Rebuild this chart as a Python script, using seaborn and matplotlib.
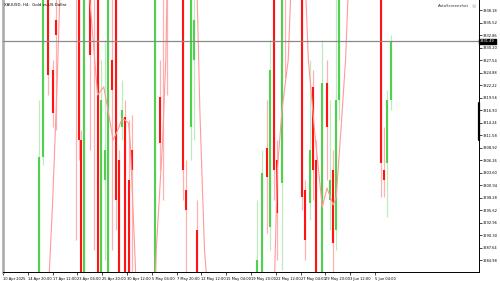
import matplotlib
matplotlib.use("Agg")
import matplotlib.pyplot as plt
import seaborn as sns
import pandas as pd
import numpy as np

# ---- data ----
bar_idx = [23, 26, 29, 32, 34, 47, 49, 50, 52, 56, 59, 61, 63, 66, 68, 70, 73, 75, 77, 79,
           81, 83, 98, 101, 103, 106, 116, 118, 121, 123, 125, 164, 167, 170, 172, 175, 177,
           180, 182, 193, 195, 198, 200, 202, 206, 209, 211, 213, 215, 217, 244, 246, 248, 250]
opens = [3276.5, 3306.9, 3344.6, 3325.4, 3336.1, 3344.6, 3344.6, 3310.5, 3278.6, 3344.6,
         3344.6, 3344.6, 3278.6, 3302.0, 3278.6, 3327.5, 3344.6, 3306.2, 3313.3, 3315.4,
         3302.0, 3308.4, 3278.6, 3319.7, 3344.6, 3344.6, 3344.6, 3299.9, 3313.3, 3327.5,
         3291.4, 3280.7, 3278.6, 3308.8, 3292.0, 3344.6, 3306.2, 3301.4, 3344.6, 3344.6,
         3299.9, 3297.1, 3321.8, 3306.2, 3278.6, 3322.6, 3297.7, 3304.1, 3291.4, 3319.0,
         3344.6, 3304.1, 3305.6, 3319.0]
highs = [3319.0, 3346.7, 3346.7, 3327.5, 3346.7, 3346.7, 3346.7, 3312.6, 3346.7, 3346.7,
         3346.7, 3346.7, 3327.5, 3331.8, 3346.7, 3344.6, 3346.7, 3308.4, 3323.3, 3319.0,
         3314.8, 3315.8, 3346.7, 3327.5, 3346.7, 3346.7, 3346.7, 3306.2, 3346.7, 3346.7,
         3297.7, 3297.7, 3308.4, 3319.0, 3331.8, 3346.7, 3310.5, 3346.7, 3346.7, 3346.7,
         3302.0, 3327.5, 3325.4, 3310.5, 3331.8, 3327.5, 3319.0, 3308.4, 3344.6, 3346.7,
         3346.7, 3313.3, 3321.2, 3332.9]
lows = [3274.3, 3305.2, 3320.1, 3313.3, 3312.6, 3289.2, 3306.2, 3278.6, 3276.5, 3308.4,
        3287.1, 3276.5, 3276.5, 3285.0, 3276.5, 3287.1, 3291.4, 3274.3, 3310.5, 3276.5,
        3276.5, 3278.6, 3276.5, 3304.1, 3297.7, 3320.1, 3297.7, 3278.6, 3306.2, 3310.5,
        3276.5, 3278.6, 3276.5, 3290.7, 3287.1, 3297.7, 3285.0, 3282.9, 3323.7, 3295.6,
        3285.0, 3293.5, 3297.7, 3274.3, 3276.5, 3302.0, 3291.4, 3278.6, 3287.1, 3314.8,
        3298.4, 3298.4, 3294.1, 3316.9]
closes = [3306.9, 3344.6, 3324.3, 3316.3, 3332.9, 3342.4, 3310.5, 3280.7, 3344.6, 3328.6,
          3342.4, 3278.6, 3319.0, 3308.4, 3344.6, 3321.2, 3297.7, 3276.5, 3316.9, 3278.6,
          3278.6, 3304.1, 3344.6, 3309.9, 3342.4, 3342.4, 3304.1, 3295.6, 3344.6, 3336.1,
          3278.6, 3285.0, 3303.5, 3302.6, 3325.4, 3304.1, 3295.0, 3344.6, 3342.4, 3298.4,
          3289.2, 3308.4, 3304.1, 3276.5, 3322.6, 3313.3, 3302.0, 3288.6, 3319.0, 3344.6,
          3305.6, 3302.0, 3319.0, 3331.5]

ma_bar = [29, 32, 35, 37, 55, 61, 65, 68, 71, 74, 77, 81, 82, 85, 86, 98, 99, 103, 105, 106,
          125, 127, 130, 132, 175, 177, 180, 184, 186, 195, 197, 201, 206, 209, 213, 215,
          218, 221, 223, 250]
ma_val = [3276.5, 3297.1, 3323.3, 3344.6, 3344.6, 3320.1, 3321.8, 3316.5, 3310.5, 3312.6,
          3315.2, 3314.1, 3310.5, 3287.1, 3278.6, 3278.6, 3287.7, 3310.5, 3327.5, 3344.6,
          3344.6, 3316.9, 3287.1, 3278.6, 3278.6, 3304.1, 3316.9, 3327.5, 3344.6, 3344.6,
          3327.5, 3312.6, 3296.2, 3300.3, 3296.7, 3298.4, 3312.6, 3327.5, 3344.6, 3344.6]

x_tick_bars = [0, 16, 32, 48, 64, 80, 96, 112, 128, 144, 160, 176, 192, 208, 224, 240]
x_tick_labels = ["10 Apr 2025", "14 Apr 20:00", "17 Apr 12:00", "23 Apr 04:00",
                 "25 Apr 20:00", "30 Apr 12:00", "5 May 04:00", "7 May 20:00",
                 "12 May 12:00", "15 May 04:00", "19 May 20:00", "22 May 12:00",
                 "27 May 04:00", "29 May 20:00", "3 Jun 12:00", "5 Jun 04:00"]
y_ticks = [3284.98, 3287.64, 3290.30, 3292.96, 3295.62, 3298.28, 3300.94, 3303.60, 3306.26,
           3308.92, 3311.58, 3314.24, 3316.90, 3319.56, 3322.22, 3324.88, 3327.54, 3330.20,
           3332.86, 3335.52, 3338.18]
current_price = 3331.49
title_text = "XAUUSD, H4:  Gold vs US Dollar"

# ---- figure ----
sns.set_style("white")
plt.rcParams['font.family'] = ['DejaVu Sans']
fig = plt.figure(figsize=(5.0, 2.81), dpi=100)
ax = fig.add_axes([3/500, (281-272)/281, 476/500, 272/281])

df = pd.DataFrame({"bar": bar_idx, "open": opens, "high": highs, "low": lows, "close": closes})
df["bull"] = df["close"] >= df["open"]

bull_body, bull_wick = "#4fd04f", "#bfeabf"
bear_body, bear_wick = "#ff1414", "#ffb0b0"

for _, r in df.iterrows():
    wc = bull_wick if r.bull else bear_wick
    bc = bull_body if r.bull else bear_body
    ax.vlines(r.bar, r.low, r.high, colors=wc, linewidth=0.9, zorder=2)
    ax.vlines(r.bar, min(r.open, r.close), max(r.open, r.close), colors=bc,
              linewidth=1.5, zorder=3)

ma_df = pd.DataFrame({"bar": ma_bar, "ma": ma_val})
sns.lineplot(data=ma_df, x="bar", y="ma", ax=ax, color="#ff9a9a", linewidth=0.8,
             sort=False, zorder=4)

ax.axhline(current_price, color="#8a8a8a", linewidth=0.9, zorder=5)

ax.set_xlim(0, 476/1.55)
ax.set_ylim(3282.43, 3340.31)

ax.set_xticks(x_tick_bars)
ax.set_xticklabels(x_tick_labels, fontsize=2.6, ha="left")
ax.set_yticks(y_ticks)
ax.set_yticklabels([f"{v:.2f}" for v in y_ticks], fontsize=2.6)
ax.yaxis.tick_right()
ax.tick_params(axis="y", which="both", right=True, left=False, length=2, width=0.5,
               pad=1, colors="black", direction="out")
ax.tick_params(axis="x", which="both", bottom=True, length=2, width=0.5, pad=1.5,
               colors="black", direction="out")
ax.set_xlabel("")
ax.set_ylabel("")

for s in ["top"]:
    ax.spines[s].set_visible(False)
ax.spines["left"].set_color("#b0b0b0")
ax.spines["left"].set_linewidth(2.0)
ax.spines["right"].set_color("black")
ax.spines["right"].set_linewidth(0.7)
ax.spines["bottom"].set_color("black")
ax.spines["bottom"].set_linewidth(0.7)

# thick black marker on price scale
ax.plot([1.0, 1.0], [3310.5, 3318.4], transform=ax.get_yaxis_transform(),
        color="black", linewidth=1.6, clip_on=False, zorder=6)

# current price label
ax.text(1.002, current_price, f"{current_price:.2f}", transform=ax.get_yaxis_transform(),
        fontsize=2.6, color="white", va="center", ha="left",
        bbox=dict(boxstyle="square,pad=0.25", fc="black", ec="black"), zorder=7,
        clip_on=False)

fig.text(4/500, 1 - 5/281, title_text, fontsize=2.8, color="black", va="center", ha="left")
fig.text(469/500, 1 - 6/281, "AutoScreenshot", fontsize=2.8, color="#333333",
         va="center", ha="right")
fig.text(474/500, 1 - 6/281, "\u263a", fontsize=3.2, color="#999999", va="center", ha="center")

fig.savefig("out.png", dpi=100)
